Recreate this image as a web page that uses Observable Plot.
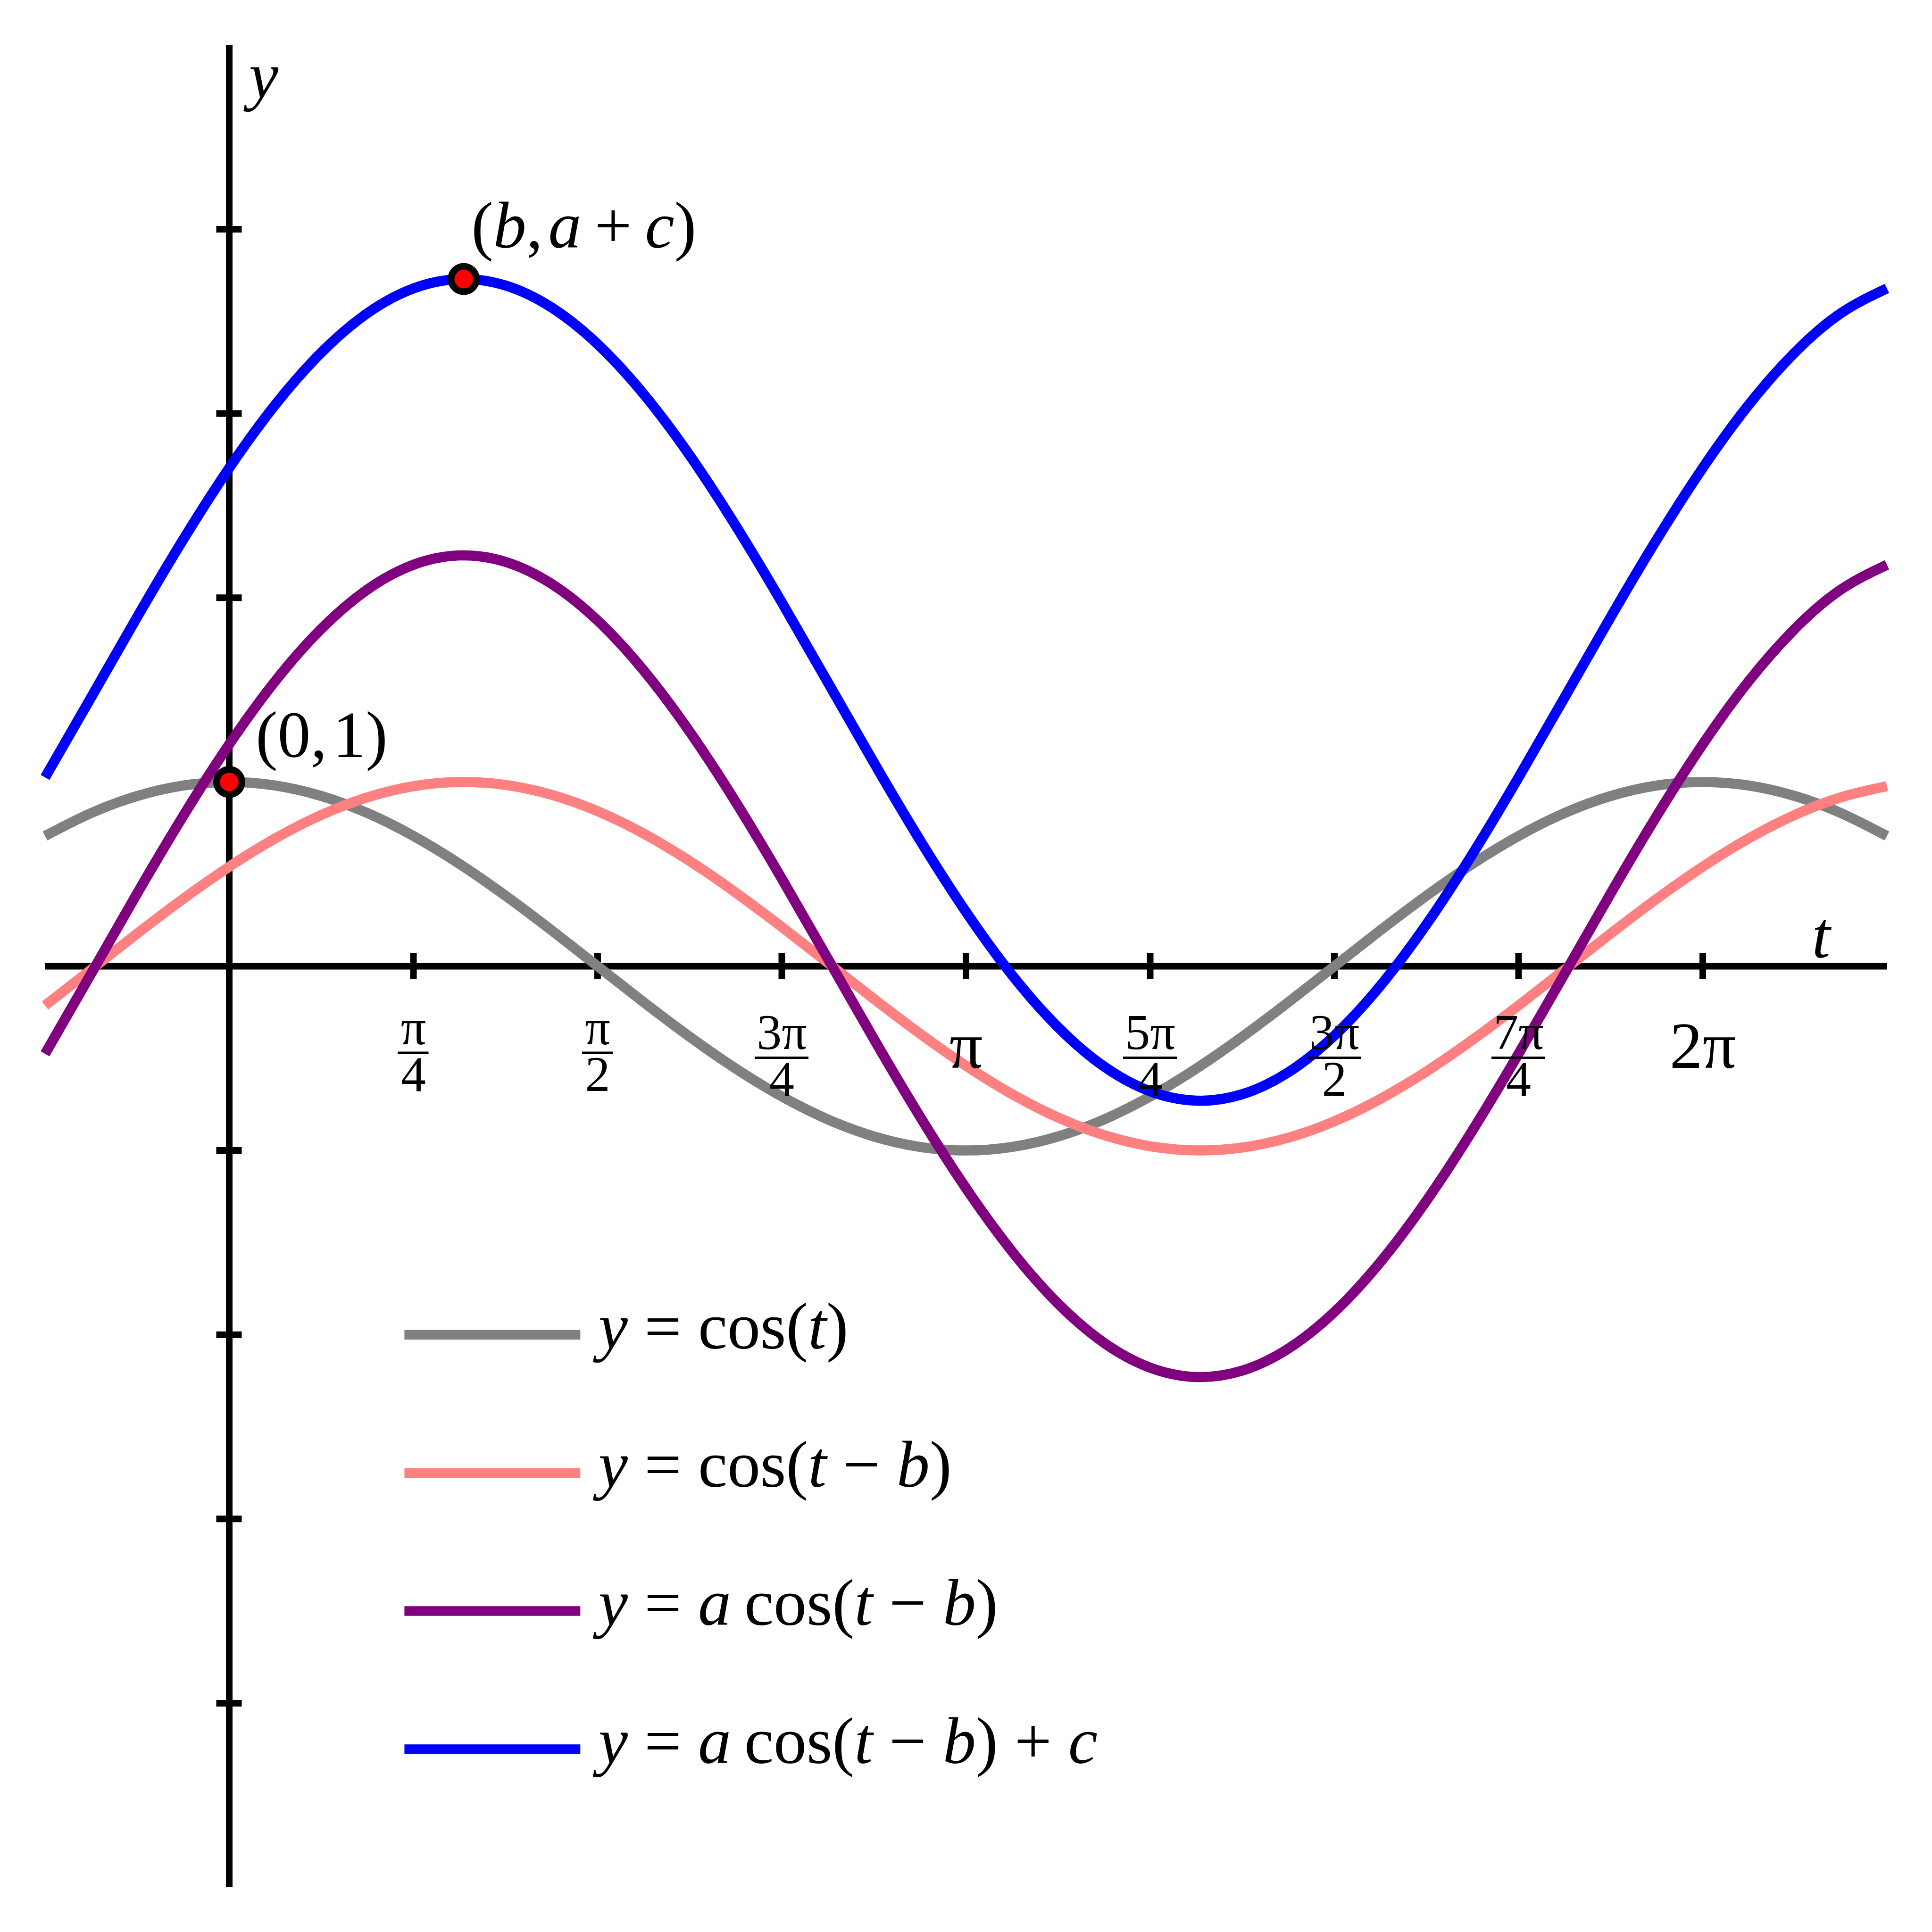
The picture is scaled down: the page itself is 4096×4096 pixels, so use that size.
<!DOCTYPE html>
<html>
<head>
<meta charset="utf-8">
<script src="https://cdn.jsdelivr.net/npm/d3@7"></script>
<script src="https://cdn.jsdelivr.net/npm/@observablehq/plot@0.6"></script>
<style>
  html, body { margin: 0; padding: 0; background: #ffffff; }
  svg { display: block; }
</style>
</head>
<body>
<div id="chart"></div>
<script>
// ---------- data ----------
const tValues = [-0.7854, -0.5890, -0.3927, -0.1963, 0, 0.1963, 0.3927, 0.5890, 0.7854, 0.9817,
                 1.1781, 1.3744, 1.5708, 1.7671, 1.9635, 2.1598, 2.3562, 2.5525, 2.7489, 2.9452,
                 3.1416, 3.3379, 3.5343, 3.7306, 3.9270, 4.1233, 4.3197, 4.5160, 4.7124, 4.9087,
                 5.1051, 5.3014, 5.4978, 5.6941, 5.8905, 6.0868, 6.2832, 6.4795, 6.6759, 6.8722, 7.0686];
const cosT = [0.7071, 0.8315, 0.9239, 0.9808, 1, 0.9808, 0.9239, 0.8315, 0.7071, 0.5556,
              0.3827, 0.1951, 0, -0.1951, -0.3827, -0.5556, -0.7071, -0.8315, -0.9239, -0.9808,
              -1, -0.9808, -0.9239, -0.8315, -0.7071, -0.5556, -0.3827, -0.1951, 0, 0.1951,
              0.3827, 0.5556, 0.7071, 0.8315, 0.9239, 0.9808, 1, 0.9808, 0.9239, 0.8315, 0.7071];
const cosTminusB = [-0.2130, -0.0183, 0.1772, 0.3658, 0.5403, 0.6941, 0.8212, 0.9168, 0.9771, 0.9998,
                    0.9842, 0.9307, 0.8415, 0.7199, 0.5707, 0.3995, 0.2130, 0.0183, -0.1772, -0.3658,
                    -0.5403, -0.6941, -0.8212, -0.9168, -0.9771, -0.9998, -0.9842, -0.9307, -0.8415, -0.7199,
                    -0.5707, -0.3995, -0.2130, -0.0183, 0.1772, 0.3658, 0.5403, 0.6941, 0.8212, 0.9168, 0.9771];
const aCosTminusB = [-0.4750, -0.0408, 0.3952, 0.8157, 1.2049, 1.5478, 1.8313, 2.0445, 2.1789, 2.2296,
                     2.1948, 2.0755, 1.8765, 1.6054, 1.2727, 0.8909, 0.4750, 0.0408, -0.3952, -0.8157,
                     -1.2049, -1.5478, -1.8313, -2.0445, -2.1789, -2.2296, -2.1948, -2.0755, -1.8765, -1.6054,
                     -1.2727, -0.8909, -0.4750, -0.0408, 0.3952, 0.8157, 1.2049, 1.5478, 1.8313, 2.0445, 2.1789];
const aCosTminusBplusC = [1.0250, 1.4592, 1.8952, 2.3157, 2.7049, 3.0478, 3.3313, 3.5445, 3.6789, 3.7296,
                          3.6948, 3.5755, 3.3765, 3.1054, 2.7727, 2.3909, 1.9750, 1.5408, 1.1048, 0.6843,
                          0.2951, -0.0478, -0.3313, -0.5445, -0.6789, -0.7296, -0.6948, -0.5755, -0.3765, -0.1054,
                          0.2273, 0.6091, 1.0250, 1.4592, 1.8952, 2.3157, 2.7049, 3.0478, 3.3313, 3.5445, 3.6789];
const seriesNames = ["y = cos(t)", "y = cos(t − b)", "y = a\u2009cos(t − b)", "y = a\u2009cos(t − b) + c"];
const seriesColors = ["#808080", "#ff8080", "#800080", "#0000ff"];
const seriesValues = [cosT, cosTminusB, aCosTminusB, aCosTminusBplusC];

const xTickValues = [0.7854, 1.5708, 2.3562, 3.1416, 3.9270, 4.7124, 5.4978, 6.2832];
const xTickNumerators = ["π", "π", "3π", "π", "5π", "3π", "7π", "2π"];
const xTickDenominators = ["4", "2", "4", "", "4", "2", "4", ""];
const yTickValues = [-4, -3, -2, -1, 1, 2, 3, 4];

const pointT = [0, 1];
const pointY = [1, 3.73];
const pointLabels = ["(0,\u200A1)", "(b,\u200Aa\u2009+\u2009c)"];

const xAxisLabel = "t";
const yAxisLabel = "y";

// ---------- layout ----------
const W = 4096, H = 4096;
const mL = 95, mR = 96, mT = 95, mB = 95;
const xDomain = [-0.7854, 7.0686];
const yDomain = [-5, 5];
const pxPerX = (W - mL - mR) / (xDomain[1] - xDomain[0]);
const pxPerY = (H - mT - mB) / (yDomain[1] - yDomain[0]);
const below = px => -px / pxPerY;        // px below the x axis -> y data value
const axisW = 14, tickHalf = 27, curveW = 21.5;
const font = "Liberation Serif";
const textSize = 140, fracSize = 106;

// tidy table for curves
const curveRows = seriesNames.flatMap((name, s) =>
  tValues.map((t, i) => ({t, y: seriesValues[s][i], s})));

const tickIdx = xTickValues.map((d, i) => i);
const fracIdx = tickIdx.filter(i => xTickDenominators[i] !== "");
const wholeIdx = tickIdx.filter(i => xTickDenominators[i] === "");
const shortNum = i => xTickNumerators[i].length === 1;
const legendIdx = seriesNames.map((d, i) => i);
const legendX1 = 0.748, legendX2 = 1.498, legendY0 = -2, legendStep = 0.75;
const pointIdx = pointT.map((d, i) => i);

const marks = [
  // axes
  Plot.ruleY([0], {stroke: "black", strokeWidth: axisW}),
  Plot.ruleX([0], {stroke: "black", strokeWidth: axisW}),
  Plot.ruleX(xTickValues, {x: d => d, y1: -tickHalf / pxPerY, y2: tickHalf / pxPerY, stroke: "black", strokeWidth: axisW}),
  Plot.ruleY(yTickValues, {y: d => d, x1: -tickHalf / pxPerX, x2: tickHalf / pxPerX, stroke: "black", strokeWidth: axisW}),
  // curves
  ...seriesNames.map((name, s) =>
    Plot.line(curveRows.filter(r => r.s === s), {
      x: "t", y: "y", stroke: seriesColors[s], strokeWidth: curveW,
      curve: "natural", strokeLinecap: "butt", strokeLinejoin: "round"
    })),
  // legend
  Plot.ruleY(legendIdx, {
    y: i => legendY0 - i * legendStep, x1: legendX1, x2: legendX2,
    stroke: i => seriesColors[i], strokeWidth: 20.5
  }),
  Plot.text(legendIdx, {
    x: legendX2, y: i => legendY0 - i * legendStep, text: i => seriesNames[i],
    dx: 38, dy: 29, textAnchor: "start", lineAnchor: "bottom", fontSize: textSize, fill: "black"
  }),
  // x tick labels: stacked fractions (numerator over denominator) with a bar
  Plot.text(fracIdx, {
    x: i => xTickValues[i], y: i => below(shortNum(i) ? 264.5 : 274),
    text: i => xTickNumerators[i] + "\n" + xTickDenominators[i],
    lineHeight: 0.93, textAnchor: "middle", lineAnchor: "bottom", fontSize: fracSize, fill: "black"
  }),
  Plot.ruleY(fracIdx, {
    y: i => below(shortNum(i) ? 183.5 : 194),
    x1: i => xTickValues[i] - (shortNum(i) ? 32.5 : 57) / pxPerX,
    x2: i => xTickValues[i] + (shortNum(i) ? 32.5 : 57) / pxPerX,
    stroke: "black", strokeWidth: 5
  }),
  Plot.text(wholeIdx, {
    x: i => xTickValues[i], y: below(215), text: i => xTickNumerators[i],
    textAnchor: "middle", lineAnchor: "bottom", fontSize: textSize, fill: "black"
  }),
  // axis labels
  Plot.text([yAxisLabel], {x: 0, y: yDomain[1], text: d => d, dx: 42, dy: 111,
    textAnchor: "start", lineAnchor: "bottom", fontSize: textSize, fill: "black"}),
  Plot.text([xAxisLabel], {x: xDomain[1], y: 0, text: d => d, dx: -159, dy: -19,
    textAnchor: "start", lineAnchor: "bottom", fontSize: textSize, fill: "black"}),
  // marked points
  Plot.dot(pointIdx, {x: i => pointT[i], y: i => pointY[i], r: 26.8, fill: "#ff0000", stroke: "black", strokeWidth: 14.2}),
  Plot.text([0], {x: i => pointT[i], y: i => pointY[i], text: i => pointLabels[i], dx: 56, dy: -53,
    textAnchor: "start", lineAnchor: "bottom", fontSize: textSize, fill: "black"}),
  Plot.text([1], {x: i => pointT[i], y: i => pointY[i], text: i => pointLabels[i], dx: 16, dy: -67,
    textAnchor: "start", lineAnchor: "bottom", fontSize: textSize, fill: "black"})
];

const svg = Plot.plot({
  width: W, height: H,
  marginLeft: mL, marginRight: mR, marginTop: mT, marginBottom: mB,
  x: {domain: xDomain, axis: null},
  y: {domain: yDomain, axis: null},
  style: {fontFamily: font, background: "#ffffff", color: "black", overflow: "visible"},
  marks
});

// math-style typesetting: single latin letters italic, "cos" upright
d3.select(svg).selectAll("text").each(function () {
  if (this.querySelector("tspan")) return;
  const s = this.textContent;
  if (!/[A-Za-z]/.test(s)) return;
  const tokens = s.match(/cos|[A-Za-z]|[^A-Za-z]+/g);
  this.textContent = "";
  for (const tok of tokens) {
    const ts = document.createElementNS("http://www.w3.org/2000/svg", "tspan");
    ts.textContent = tok;
    if (/^[A-Za-z]$/.test(tok)) ts.setAttribute("font-style", "italic");
    this.appendChild(ts);
  }
});

document.getElementById("chart").appendChild(svg);
</script>
</body>
</html>
